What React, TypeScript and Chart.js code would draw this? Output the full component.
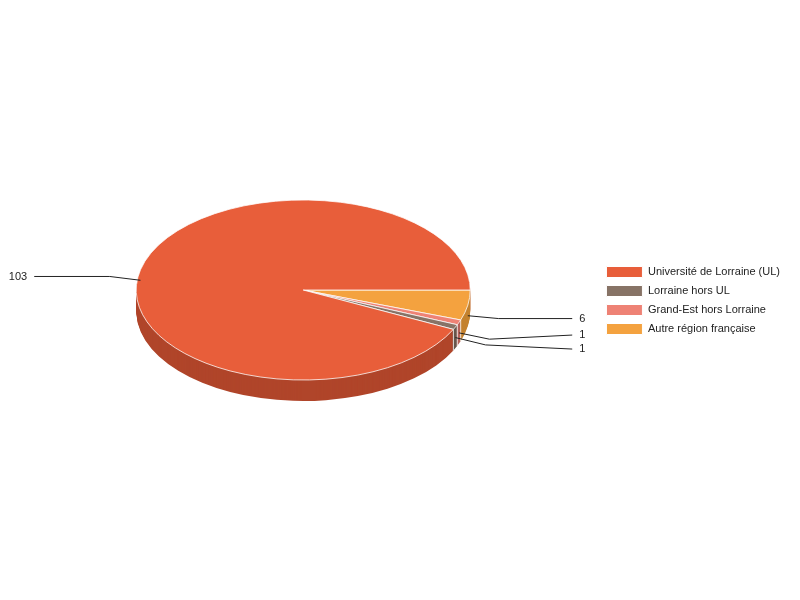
import React, { useEffect, useRef } from 'react';
import { Chart, registerables } from 'chart.js';

Chart.register(...registerables);

const categories = ['Université de Lorraine (UL)', 'Lorraine hors UL', 'Grand-Est hors Lorraine', 'Autre région française'];
const values = [103, 1, 1, 6];
const topColors = ['#e85e3a', '#877366', '#ee8275', '#f4a23f'];
const sideColors = ['#b0452a', '#66564c', '#b3625a', '#c4822f'];

const DEPTH = 21;
const TILT = 0.539;
const FONT = '"Liberation Sans", Arial, sans-serif';

// slices are drawn counter-clockwise from 3 o'clock in the reference: reverse for Chart.js
const order = categories.map((_, i) => categories.length - 1 - i);

const pie3d: any = {
  id: 'pie3d',
  _saved: false,
  beforeDatasetsDraw(chart: any) {
    const arcs = chart.getDatasetMeta(0).data;
    this._saved = false;
    if (!arcs.length) return;
    const ctx = chart.ctx;
    const cx = arcs[0].x, cy = arcs[0].y;
    const top = cy - DEPTH / 2;
    const sides = chart.data.datasets[0].sideColors;
    for (let d = DEPTH; d >= 1; d--) {
      arcs.forEach((arc: any, i: number) => {
        ctx.save();
        ctx.translate(cx, top + d);
        ctx.scale(1, TILT);
        ctx.beginPath();
        ctx.moveTo(0, 0);
        ctx.arc(0, 0, arc.outerRadius, arc.startAngle, arc.endAngle);
        ctx.closePath();
        ctx.fillStyle = sides[i];
        ctx.fill();
        ctx.restore();
      });
    }
    // white separators on the side wall
    ctx.save();
    ctx.strokeStyle = 'rgba(255,255,255,0.8)';
    ctx.lineWidth = 1;
    arcs.forEach((arc: any) => {
      const a = arc.startAngle;
      const s = Math.sin(a);
      if (s > 0.01) {
        const x = cx + arc.outerRadius * Math.cos(a);
        const y = top + arc.outerRadius * TILT * s;
        ctx.beginPath();
        ctx.moveTo(x, y);
        ctx.lineTo(x, y + DEPTH);
        ctx.stroke();
      }
    });
    ctx.restore();
    ctx.save();
    ctx.translate(cx, top);
    ctx.scale(1, TILT);
    ctx.translate(-cx, -cy);
    this._saved = true;
  },
  afterDatasetsDraw(chart: any) {
    if (!this._saved) return;
    const ctx = chart.ctx;
    ctx.restore();
    this._saved = false;
    const arcs = chart.getDatasetMeta(0).data;
    const data = chart.data.datasets[0].data;
    const cx = arcs[0].x, cy = arcs[0].y;
    const top = cy - DEPTH / 2;
    const right: any[] = [], left: any[] = [];
    arcs.forEach((arc: any, i: number) => {
      const mid = (arc.startAngle + arc.endAngle) / 2;
      const R = arc.outerRadius;
      const dx = R * Math.cos(mid), dy = R * TILT * Math.sin(mid);
      const ax = cx + dx, ay = top + dy + DEPTH / 2;
      const len = Math.hypot(dx, dy);
      const ex = ax + (31 * dx) / len, ey = ay + (31 * dy) / len;
      const item = { ax, ay, ex, ey, ly: ey, text: String(data[i]), R };
      (Math.cos(mid) >= 0 ? right : left).push(item);
    });
    const spread = (list: any[]) => {
      list.sort((a, b) => a.ly - b.ly);
      const gap = 14;
      for (let k = 0; k < 60; k++) {
        for (let i = 1; i < list.length; i++) {
          if (list[i].ly - list[i - 1].ly < gap) {
            const m = (list[i].ly + list[i - 1].ly) / 2;
            list[i - 1].ly = m - gap / 2;
            list[i].ly = m + gap / 2;
          }
        }
      }
    };
    spread(right);
    spread(left);
    ctx.save();
    ctx.strokeStyle = '#222';
    ctx.lineWidth = 1;
    ctx.fillStyle = '#222';
    ctx.font = '11px ' + FONT;
    ctx.textBaseline = 'middle';
    const draw = (list: any[], side: number) => {
      list.forEach((it) => {
        const endX = cx + side * (it.R + 102);
        ctx.beginPath();
        ctx.moveTo(it.ax, it.ay);
        ctx.lineTo(it.ex, it.ey);
        ctx.lineTo(endX, it.ly);
        ctx.stroke();
        ctx.textAlign = side > 0 ? 'left' : 'right';
        ctx.fillText(it.text, endX + side * 7, it.ly);
      });
    };
    draw(right, 1);
    draw(left, -1);
    ctx.restore();
  },
};

export default function App() {
  const ref = useRef<HTMLCanvasElement>(null);
  useEffect(() => {
    if (!ref.current) return;
    const chart = new Chart(ref.current, {
      type: 'pie',
      data: {
        labels: order.map((i) => categories[i]),
        datasets: [
          {
            data: order.map((i) => values[i]),
            backgroundColor: order.map((i) => topColors[i]),
            sideColors: order.map((i) => sideColors[i]),
            borderColor: '#ffffff',
            borderWidth: 1,
            radius: 167,
          } as any,
        ],
      },
      options: {
        animation: false,
        responsive: false,
        events: [],
        rotation: 90,
        radius: 167,
        layout: { padding: { left: 8, right: 10, top: 1, bottom: 0 } },
        plugins: {
          tooltip: { enabled: false },
          legend: {
            position: 'right',
            align: 'center',
            labels: {
              boxWidth: 36,
              boxHeight: 11,
              padding: 8,
              color: '#222',
              font: { size: 11, family: FONT },
              sort: (a: any, b: any) => b.index - a.index,
            },
          },
        },
      } as any,
      plugins: [pie3d],
    });
    return () => chart.destroy();
  }, []);
  return (
    <div style={{ position: 'absolute', left: 0, top: 0, width: 800, height: 600, background: '#fff' }}>
      <canvas ref={ref} width={800} height={600} style={{ display: 'block' }} />
    </div>
  );
}
